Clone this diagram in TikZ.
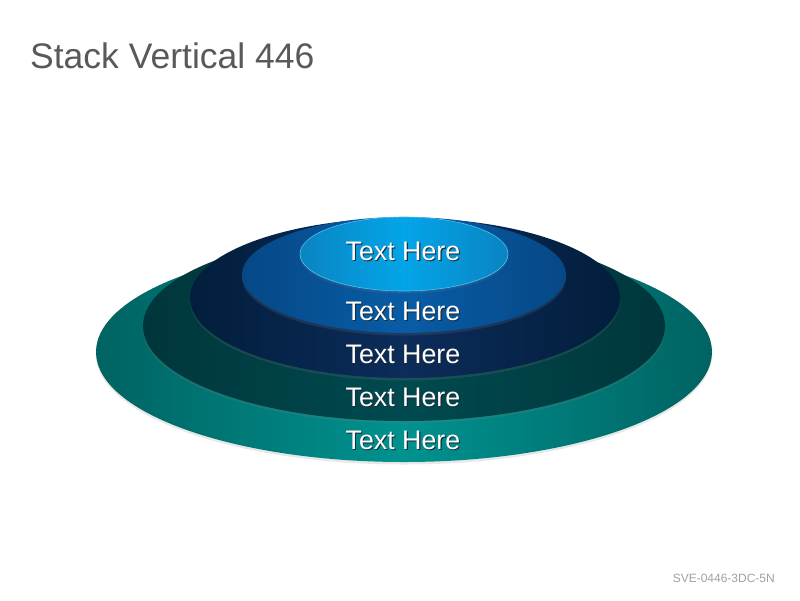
\documentclass[tikz,border=0pt]{standalone}
\usepackage{fontspec}
\setmainfont{Liberation Sans}
\usepackage{tikz}
\usetikzlibrary{shapes.geometric,shadows}
\usepackage{xcolor}
\definecolor{titlegray}{HTML}{595959}
\definecolor{codegray}{HTML}{A0A0A0}
\definecolor{tealmid}{HTML}{00928F}
\definecolor{tealedge}{HTML}{006362}
\definecolor{darktealmid}{HTML}{004A4F}
\definecolor{darktealedge}{HTML}{00363B}
\definecolor{navymid}{HTML}{0C2C5A}
\definecolor{navyedge}{HTML}{021E3C}
\definecolor{bluemid}{HTML}{085CA6}
\definecolor{blueedge}{HTML}{064886}
\definecolor{skymid}{HTML}{03A5E8}
\definecolor{skyedge}{HTML}{0A84C2}
\definecolor{textshade}{HTML}{1A2A38}
\newcommand{\shadedlabel}[1]{\leavevmode\rlap{\hspace{1pt}\raisebox{-1.2pt}{\color{textshade}#1}}#1}

\begin{document}
\begin{tikzpicture}[x=1pt,y=-1pt,
                    layer/.style={ellipse,inner sep=0pt,drop shadow={opacity=0.18,shadow xshift=0pt,shadow yshift=-2.5pt}},
                    label text/.style={text=white,font=\fontsize{26.8}{30}\selectfont}]
  \useasboundingbox (0,0) rectangle (800,600);

  % Title
  \node[anchor=base west,inner sep=0pt,text=titlegray,font=\fontsize{35.5}{40}\selectfont] (title) at (30,68) {Stack Vertical 446};

  % Layers
  \node[layer,minimum width=616pt,minimum height=220pt,left color=tealedge,right color=tealedge,middle color=tealmid] (L1) at (404,352) {};
  \node[layer,minimum width=522pt,minimum height=190pt,left color=darktealedge,right color=darktealedge,middle color=darktealmid] (L2) at (404,326) {};
  \node[layer,minimum width=430pt,minimum height=160pt,left color=navyedge,right color=navyedge,middle color=navymid] (L3) at (405,298) {};
  \node[layer,minimum width=324pt,minimum height=116pt,left color=blueedge,right color=blueedge,middle color=bluemid] (L4) at (404,275) {};
  \node[layer,minimum width=208pt,minimum height=74pt,draw=skymid!70!white,line width=0.6pt,left color=skyedge,right color=skyedge,middle color=skymid] (L5) at (404,254) {};

  % Labels
  \node[label text] (T5) at (403,252) {\shadedlabel{Text Here}};
  \node[label text] (T4) at (403,312) {\shadedlabel{Text Here}};
  \node[label text] (T3) at (403,355) {\shadedlabel{Text Here}};
  \node[label text] (T2) at (403,398) {\shadedlabel{Text Here}};
  \node[label text] (T1) at (403,441) {\shadedlabel{Text Here}};

  % Code
  \node[anchor=base east,inner sep=0pt,text=codegray,font=\fontsize{12}{14}\selectfont] (code) at (775,582) {SVE-0446-3DC-5N};
\end{tikzpicture}
\end{document}
